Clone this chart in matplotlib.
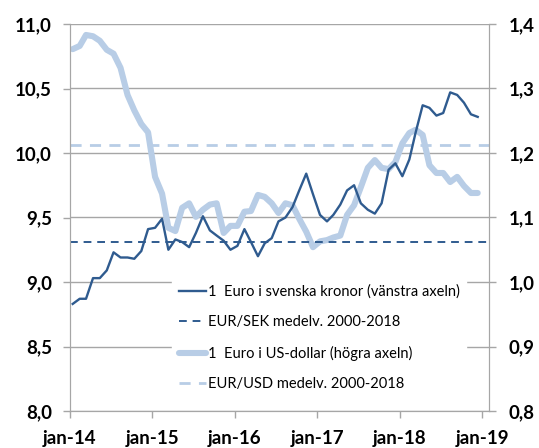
import numpy as np
import pandas as pd
import matplotlib
matplotlib.use("Agg")
import matplotlib.pyplot as plt
import matplotlib.dates as mdates
from matplotlib.ticker import FuncFormatter, MultipleLocator

plt.rcParams['font.family'] = ['Lato', 'DejaVu Sans']

# monthly averages jan 2014 - dec 2018
eur_sek = [8.83, 8.87, 8.87, 9.03, 9.03, 9.09, 9.23, 9.19, 9.19, 9.18, 9.24, 9.41,
           9.42, 9.49, 9.25, 9.33, 9.31, 9.27, 9.38, 9.51, 9.40, 9.36, 9.32, 9.25,
           9.28, 9.41, 9.31, 9.20, 9.30, 9.34, 9.47, 9.50, 9.58, 9.71, 9.84, 9.68,
           9.52, 9.47, 9.52, 9.60, 9.71, 9.75, 9.61, 9.56, 9.53, 9.61, 9.87, 9.92,
           9.82, 9.95, 10.16, 10.37, 10.35, 10.29, 10.31, 10.47, 10.45, 10.39, 10.30, 10.28]
eur_usd = [1.361, 1.366, 1.383, 1.381, 1.374, 1.360, 1.354, 1.332, 1.290, 1.266, 1.245, 1.232,
           1.163, 1.137, 1.084, 1.079, 1.115, 1.122, 1.101, 1.112, 1.120, 1.122, 1.076, 1.087,
           1.087, 1.109, 1.110, 1.135, 1.132, 1.122, 1.107, 1.122, 1.119, 1.098, 1.078, 1.054,
           1.063, 1.065, 1.069, 1.072, 1.104, 1.119, 1.147, 1.177, 1.189, 1.177, 1.175, 1.186,
           1.215, 1.231, 1.236, 1.228, 1.181, 1.169, 1.169, 1.155, 1.163, 1.149, 1.138, 1.138]
sek_mean = 9.31
usd_mean = 1.213

labels = ["1  Euro i svenska kronor (vänstra axeln)",
          "EUR/SEK medelv. 2000-2018",
          "1  Euro i US-dollar (högra axeln)",
          "EUR/USD medelv. 2000-2018"]

dates = pd.date_range("2014-01-01", periods=len(eur_sek), freq="MS") + pd.Timedelta(days=12)

dark = "#2F5B8F"
light = "#B8CDE6"
grid = "#A6A6A6"

fig = plt.figure(figsize=(5.39, 4.48), dpi=100)
ax = fig.add_axes([70/539, 37/448, 419/539, 387/448])
ax2 = ax.twinx()
ax.set_zorder(ax2.get_zorder() + 1)
ax.patch.set_visible(False)

l1, = ax.plot(dates, eur_sek, color=dark, lw=1.7)
l2 = ax.axhline(sek_mean, color=dark, lw=1.4, ls=(0, (4, 3)))
l3, = ax2.plot(dates, eur_usd, color=light, lw=4.4, solid_capstyle='round')
l4 = ax2.axhline(usd_mean, color=light, lw=2.0, ls=(0, (4, 3)))

ax.set_ylim(8.0, 11.0)
ax2.set_ylim(0.8, 1.4)
ax.yaxis.set_major_locator(MultipleLocator(0.5))
ax2.yaxis.set_major_locator(MultipleLocator(0.1))
comma = FuncFormatter(lambda v, p: f"{v:.1f}".replace(".", ","))
ax.yaxis.set_major_formatter(comma)
ax2.yaxis.set_major_formatter(comma)

ax.set_xlim(pd.Timestamp("2014-01-01"), pd.Timestamp("2019-02-01"))
ax.xaxis.set_major_locator(mdates.YearLocator())
ax.xaxis.set_major_formatter(mdates.DateFormatter("jan-%y"))

ax2.grid(True, color=grid, lw=1.0)
ax2.xaxis.grid(True, color=grid, lw=1.0)
ax2.set_axisbelow(True)

for a in (ax, ax2):
    for s in a.spines.values():
        s.set_color(grid)
    a.spines['top'].set_visible(False)
    a.tick_params(colors=grid, length=5, width=1.0, direction='out', labelcolor='black',
                  labelsize=13.5)
    for t in a.get_yticklabels() + a.get_xticklabels():
        t.set_fontweight('bold')
ax.tick_params(axis='y', pad=8)
ax2.tick_params(axis='y', pad=9)
ax.tick_params(axis='x', pad=9)

leg = ax.legend([l1, l2, l3, l4], labels, loc='upper left',
                bbox_to_anchor=(172/539, 1 - 278/448), bbox_transform=fig.transFigure,
                borderaxespad=0, frameon=True, fancybox=False, framealpha=1,
                facecolor='white', edgecolor='white', fontsize=10.5,
                handlelength=1.9, handletextpad=0.1, labelspacing=1.12, borderpad=0.45)

plt.savefig("out.png", dpi=100)
